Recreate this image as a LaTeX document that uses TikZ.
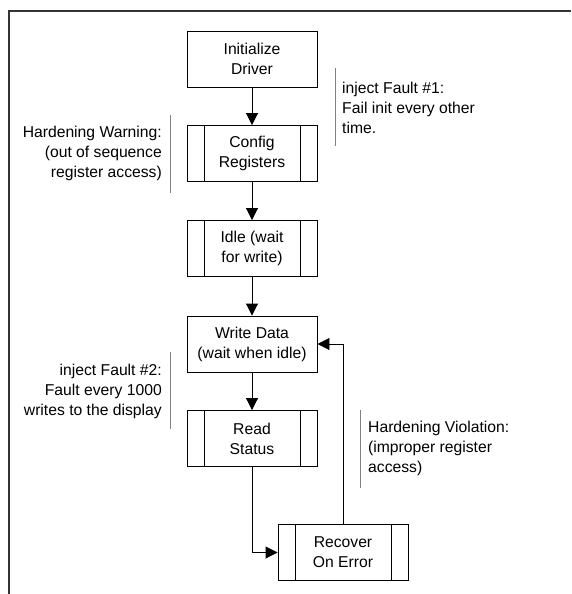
\documentclass[tikz,border=0pt]{standalone}
\usepackage{fontspec}
\setmainfont{Liberation Sans}
\usetikzlibrary{arrows.meta}
\tikzset{
	every node/.style={font=\fontsize{15.7}{20}\selectfont},
	procbox/.style={draw=black,line width=.9pt,minimum width=130pt,minimum height=56pt,align=center,inner sep=0pt},
	subbox/.style={procbox,path picture={
		\draw[line width=.9pt] ([xshift=17pt]path picture bounding box.north west) -- ([xshift=17pt]path picture bounding box.south west);
		\draw[line width=.9pt] ([xshift=-17pt]path picture bounding box.north east) -- ([xshift=-17pt]path picture bounding box.south east);}},
	note/.style={inner sep=0pt},
	bar/.style={draw=gray,line width=1pt},
	flow/.style={line width=.9pt,-{Triangle[length=12pt,width=12pt]}}
}
\begin{document}
\begin{tikzpicture}[x=1pt,y=-1pt]
	\useasboundingbox (0,0) rectangle (571,594);
	\draw[line width=1.2pt,black!80] (571,11) -- (9,11) -- (9,594);
	% main column
	\node[procbox] (init) at (252, 59) {Initialize\\Driver};
	\node[subbox] (config) at (252,153.5) {Config\\Registers};
	\node[subbox] (idle) at (252,248.5) {Idle (wait\\for write)};
	\node[procbox] (write) at (252,344) {Write Data\\(wait when idle)};
	\node[subbox] (read) at (252,438.5) {Read\\Status};
	\node[subbox] (recover) at (343,552.5) {Recover\\On Error};
	\draw[flow] (init) -- (config);
	\draw[flow] (config) -- (idle);
	\draw[flow] (idle) -- (write);
	\draw[flow] (write) -- (read);
	\draw[flow] (read.south) |- (recover.west);
	\draw[flow] (recover.north) |- (write.east);
	% notes
	\node[note,anchor=west,align=left] (fault1) at (342,107.5)
		{inject Fault \#1:\\Fail init every other\\time.};
	\draw[bar] (335,68) -- (335,146);
	\node[note,anchor=east,align=right] (warning) at (162,153)
		{Hardening Warning:\\(out of sequence\\register access)};
	\draw[bar] (170,115) -- (170,193);
	\node[note,anchor=east,align=right] (fault2) at (162,391)
		{inject Fault \#2:\\Fault every 1000\\writes to the display};
	\draw[bar] (170,352) -- (170,429);
	\node[note,anchor=west,align=left] (violation) at (368,448)
		{Hardening Violation:\\(improper register\\access)};
	\draw[bar] (360,410) -- (360,488);
\end{tikzpicture}
\end{document}
